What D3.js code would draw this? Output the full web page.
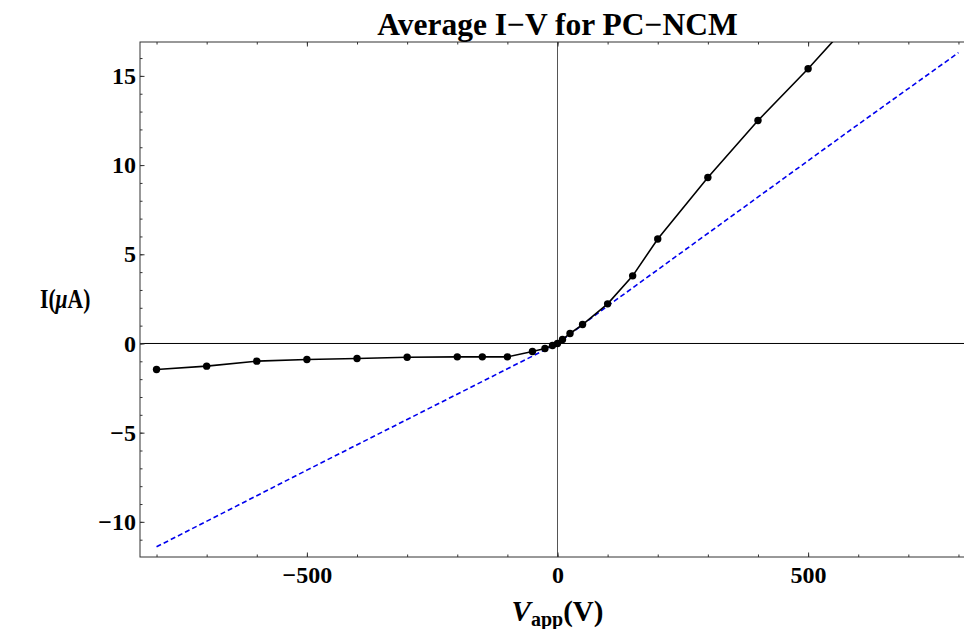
<!DOCTYPE html>
<html>
<head>
<meta charset="utf-8">
<script src="https://cdn.jsdelivr.net/npm/d3@7/dist/d3.min.js"></script>
<style>
  body { margin: 0; background: #fff; }
  svg { display: block; }
</style>
</head>
<body>
<div id="chart-area"></div>
<script>
// measured I-V points (V in volts, I in microamps)
const voltages = [-800, -700, -600, -500, -400, -300, -200, -150, -100, -50, -25, -10, 0, 10, 25, 50, 100, 150, 200, 300, 400, 500, 600]
const currents = [-1.46, -1.27, -0.99, -0.90, -0.84, -0.77, -0.75, -0.75, -0.75, -0.45, -0.28, -0.11, 0, 0.22, 0.56, 1.06, 2.22, 3.79, 5.86, 9.30, 12.5, 15.4, 18.5]

// dashed blue reference curve
const fitVoltages = [-800, -500, 0, 100, 600, 800]
const fitCurrents = [-11.4, -7.1, 0, 2.1, 12.28, 16.3]

const xMajor = [-500, 0, 500]
const xMinor = d3.range(-800, 801, 100)
const yMajor = [-10, -5, 0, 5, 10, 15]
const yMinor = d3.range(-11, 17, 1)

const MARGIN = { LEFT: 140, TOP: 42 }
const WIDTH = 835
const HEIGHT = 515
const FONT = "'Liberation Serif', 'Times New Roman', serif"

const svg = d3.select("#chart-area").append("svg")
  .attr("width", 964)
  .attr("height", 629)

const g = svg.append("g")
  .attr("transform", `translate(${MARGIN.LEFT}, ${MARGIN.TOP})`)

const x = d3.scaleLinear().domain([-833, 833]).range([0, WIDTH])
const y = d3.scaleLinear().domain([-11.97, 16.9]).range([HEIGHT, 0])

g.append("clipPath").attr("id", "plot-clip")
  .append("rect").attr("width", WIDTH).attr("height", HEIGHT)

// zero axes
g.append("line")
  .attr("x1", 0).attr("x2", WIDTH)
  .attr("y1", y(0)).attr("y2", y(0))
  .attr("stroke", "#000").attr("stroke-width", 1)
g.append("line")
  .attr("x1", x(0)).attr("x2", x(0))
  .attr("y1", 0).attr("y2", HEIGHT)
  .attr("stroke", "#555").attr("stroke-width", 1)

// frame ticks, all pointing inward
function styleAxis(sel) {
  sel.select(".domain").remove()
  sel.selectAll("line").attr("stroke", "#333")
  sel.attr("font-family", FONT).attr("font-size", 24).attr("font-weight", "bold")
  sel.selectAll("text").attr("fill", "#000")
}

g.append("g").attr("transform", `translate(0, ${HEIGHT})`)
  .call(d3.axisBottom(x).tickValues(xMinor).tickSize(-2.5).tickFormat(""))
  .call(styleAxis)
g.append("g").attr("transform", `translate(0, ${HEIGHT})`)
  .call(d3.axisBottom(x).tickValues(xMajor).tickSizeInner(-4.5).tickSizeOuter(0).tickPadding(9)
    .tickFormat(d => d < 0 ? "\u2212" + Math.abs(d) : d))
  .call(styleAxis)
g.append("g")
  .call(d3.axisTop(x).tickValues(xMinor).tickSize(-2.5).tickFormat(""))
  .call(styleAxis)
g.append("g")
  .call(d3.axisTop(x).tickValues(xMajor).tickSize(-4.5).tickFormat(""))
  .call(styleAxis)

g.append("g")
  .call(d3.axisLeft(y).tickValues(yMinor).tickSize(-2.5).tickFormat(""))
  .call(styleAxis)
g.append("g")
  .call(d3.axisLeft(y).tickValues(yMajor).tickSizeInner(-4.5).tickSizeOuter(0).tickPadding(4)
    .tickFormat(d => d < 0 ? "\u2212" + Math.abs(d) : d))
  .call(styleAxis)

// frame
g.append("rect")
  .attr("width", WIDTH).attr("height", HEIGHT)
  .attr("fill", "none").attr("stroke", "#333").attr("stroke-width", 1)

const plot = g.append("g").attr("clip-path", "url(#plot-clip)")

// dashed blue curve
const fitLine = d3.line()
  .x((d, i) => x(fitVoltages[i]))
  .y(d => y(d))
plot.append("path")
  .attr("d", fitLine(fitCurrents))
  .attr("fill", "none")
  .attr("stroke", "#0000ee")
  .attr("stroke-width", 1.6)
  .attr("stroke-dasharray", "5,3")

// measured data
const dataLine = d3.line()
  .x((d, i) => x(voltages[i]))
  .y(d => y(d))
plot.append("path")
  .attr("d", dataLine(currents))
  .attr("fill", "none")
  .attr("stroke", "#000")
  .attr("stroke-width", 1.6)

plot.selectAll("circle")
  .data(currents)
  .enter().append("circle")
    .attr("cx", (d, i) => x(voltages[i]))
    .attr("cy", d => y(d))
    .attr("r", 3.7)
    .attr("fill", "#000")

// title
svg.append("text")
  .attr("x", MARGIN.LEFT + x(0))
  .attr("y", 35)
  .attr("text-anchor", "middle")
  .attr("font-family", FONT)
  .attr("font-weight", "bold")
  .attr("font-size", 31.5)
  .text("Average I\u2212V for PC\u2212NCM")

// x label
const xLabel = svg.append("text")
  .attr("x", MARGIN.LEFT + x(0))
  .attr("y", 621)
  .attr("text-anchor", "middle")
  .attr("font-family", FONT)
  .attr("font-weight", "bold")
  .attr("font-size", 29)
xLabel.append("tspan").attr("font-style", "italic").text("V")
xLabel.append("tspan").attr("font-size", 20).attr("dy", 5).text("app")
xLabel.append("tspan").attr("dy", -5).text("(V)")

// y label
const yLabel = svg.append("text")
  .attr("transform", "translate(40, 308) scale(0.8, 1)")
  .attr("font-family", FONT)
  .attr("font-weight", "bold")
  .attr("font-size", 27)
yLabel.append("tspan").text("I(")
yLabel.append("tspan").attr("font-style", "italic").text("\u03bc")
yLabel.append("tspan").text("A)")
</script>
</body>
</html>
